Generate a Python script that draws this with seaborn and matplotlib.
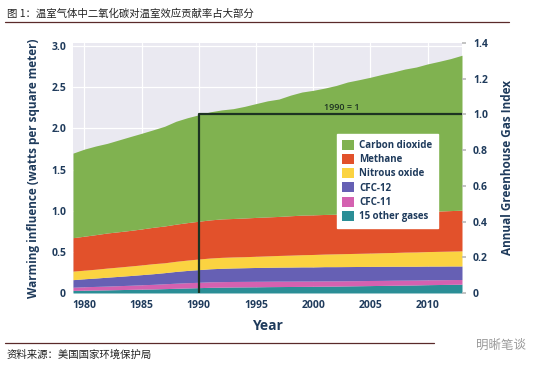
import numpy as np
import pandas as pd
import seaborn as sns
import matplotlib
matplotlib.use("Agg")
import matplotlib.pyplot as plt
from matplotlib.patches import Patch

# Radiative forcing (W/m^2) by gas
years = list(range(1979, 2014))
co2 = [1.027, 1.058, 1.077, 1.089, 1.115, 1.140, 1.162, 1.184, 1.211, 1.250,
       1.274, 1.293, 1.313, 1.324, 1.334, 1.356, 1.383, 1.410, 1.426, 1.465,
       1.495, 1.513, 1.535, 1.564, 1.601, 1.627, 1.655, 1.685, 1.710, 1.739,
       1.760, 1.791, 1.818, 1.846, 1.882]
methane = [0.406, 0.413, 0.420, 0.426, 0.429, 0.432, 0.437, 0.442, 0.447, 0.451,
           0.455, 0.459, 0.463, 0.467, 0.467, 0.470, 0.472, 0.473, 0.474, 0.478,
           0.481, 0.481, 0.481, 0.481, 0.483, 0.482, 0.481, 0.481, 0.483, 0.485,
           0.487, 0.489, 0.490, 0.492, 0.494]
nitrous = [0.104, 0.104, 0.107, 0.111, 0.113, 0.116, 0.118, 0.122, 0.120, 0.123,
           0.126, 0.129, 0.131, 0.133, 0.134, 0.134, 0.136, 0.139, 0.142, 0.145,
           0.148, 0.151, 0.153, 0.156, 0.158, 0.160, 0.162, 0.165, 0.167, 0.171,
           0.173, 0.176, 0.179, 0.181, 0.184]
cfc12 = [0.092, 0.097, 0.102, 0.108, 0.113, 0.118, 0.123, 0.129, 0.135, 0.143,
         0.149, 0.154, 0.158, 0.162, 0.164, 0.166, 0.168, 0.169, 0.170, 0.171,
         0.172, 0.172, 0.173, 0.173, 0.172, 0.172, 0.171, 0.171, 0.170, 0.169,
         0.168, 0.167, 0.166, 0.165, 0.164]
cfc11 = [0.039, 0.042, 0.044, 0.046, 0.048, 0.050, 0.053, 0.056, 0.059, 0.062,
         0.064, 0.065, 0.067, 0.067, 0.067, 0.067, 0.067, 0.066, 0.066, 0.065,
         0.065, 0.064, 0.064, 0.063, 0.063, 0.062, 0.062, 0.061, 0.061, 0.060,
         0.059, 0.059, 0.058, 0.058, 0.057]
other = [0.031, 0.034, 0.036, 0.038, 0.041, 0.044, 0.047, 0.049, 0.053, 0.057,
         0.061, 0.065, 0.069, 0.071, 0.073, 0.074, 0.075, 0.077, 0.078, 0.079,
         0.080, 0.081, 0.083, 0.084, 0.086, 0.088, 0.090, 0.092, 0.094, 0.096,
         0.098, 0.101, 0.103, 0.105, 0.107]

gas_names = ["Carbon dioxide", "Methane", "Nitrous oxide", "CFC-12", "CFC-11", "15 other gases"]
gas_colors = ["#80b250", "#e2512b", "#fbd341", "#6660b4", "#d461b0", "#2b8e96"]

left_ticks = [0, 0.5, 1.0, 1.5, 2.0, 2.5, 3.0]
left_labels = ["0", "0.5", "1.0", "1.5", "2.0", "2.5", "3.0"]
right_ticks = [0, 0.2, 0.4, 0.6, 0.8, 1.0, 1.2, 1.4]
right_labels = ["0", "0.2", "0.4", "0.6", "0.8", "1.0", "1.2", "1.4"]
x_ticks = [1980, 1985, 1990, 1995, 2000, 2005, 2010]
base_year = 1990
index_scale = 2.17  # W/m^2 per index unit

df = pd.DataFrame({"year": years, "Carbon dioxide": co2, "Methane": methane,
                   "Nitrous oxide": nitrous, "CFC-12": cfc12, "CFC-11": cfc11,
                   "15 other gases": other})

sns.set_theme(style="whitegrid")
plt.rcParams["font.family"] = ["Open Sans", "DejaVu Sans"]

navy = "#1f3b5c"
fig = plt.figure(figsize=(5.42, 3.73), dpi=100)
ax = fig.add_axes([0.1347, 0.2145, 0.7177, 0.6705])
ax.set_facecolor("#eae9f1")
ax.grid(True, color="white", linewidth=0.9)
for s in ax.spines.values():
    s.set_visible(False)

stack_order = gas_names[::-1]
ax.stackplot(df["year"], *[df[g] for g in stack_order],
             colors=gas_colors[::-1], linewidth=0, zorder=2)

ymax = 1.4 * index_scale
ax.set_xlim(1979, 2013)
ax.set_ylim(0, ymax)
ax.set_xticks(x_ticks)
ax.set_xticklabels([str(x) for x in x_ticks], fontsize=7.5, fontweight="bold", color=navy)
ax.set_yticks(left_ticks)
ax.set_yticklabels(left_labels, fontsize=7.5, fontweight="bold", color=navy)
ax.tick_params(axis="both", length=0, pad=5)
ax.set_xlabel("Year", fontsize=10, fontweight="bold", color=navy, labelpad=6)
ax.set_ylabel("Warming influence (watts per square meter)", fontsize=8.5,
              fontweight="bold", color=navy, labelpad=8)

ax2 = ax.twinx()
ax2.set_ylim(0, ymax / index_scale)
ax2.set_yticks(right_ticks)
ax2.set_yticklabels(right_labels, fontsize=7.5, fontweight="bold", color=navy)
ax2.tick_params(axis="y", length=3, color="#bbbbbb", pad=5)
ax2.grid(False)
for s in ax2.spines.values():
    s.set_visible(False)
ax2.set_ylabel("Annual Greenhouse Gas Index", fontsize=8.5, fontweight="bold",
               color=navy, labelpad=9)

# 1990 = 1 reference box
ax2.plot([base_year, base_year, 2013], [0, 1.0, 1.0], color="#1d3322", linewidth=1.6, zorder=5)
ax2.text(2002.5, 1.015, "1990 = 1", fontsize=6.5, fontweight="semibold", color="#1d3322",
         ha="center", va="bottom")

handles = [Patch(facecolor=c, edgecolor="none") for c in gas_colors]
leg = ax2.legend(handles, gas_names, loc="upper left", bbox_to_anchor=(0.665, 0.655),
                 frameon=True, fancybox=False, framealpha=1, edgecolor="white",
                 prop={"size": 7, "weight": "bold"}, handlelength=1.2,
                 handleheight=1.2, labelspacing=0.3, borderpad=0.6, handletextpad=0.5)
for t in leg.get_texts():
    t.set_color(navy)

# Report header / footer
cjk = ["Noto Sans CJK SC", "DejaVu Sans"]
fig.text(0.012, 0.962, "图 1：温室气体中二氧化碳对温室效应贡献率占大部分", fontsize=7.5,
         family=cjk, color="#222222", va="center")
fig.add_artist(plt.Line2D([0.01, 0.94], [0.94, 0.94], color="#5a2a2a", linewidth=0.9))
fig.add_artist(plt.Line2D([0.01, 0.80], [0.08, 0.08], color="#5a2a2a", linewidth=0.9))
fig.text(0.012, 0.05, "资料来源：美国国家环境保护局", fontsize=7.5, family=cjk,
         color="#222222", va="center")
fig.text(0.97, 0.075, "明晰笔谈", fontsize=9, family=cjk, color="#9a9a9a",
         ha="right", va="center")

fig.savefig("out.png", dpi=100)
